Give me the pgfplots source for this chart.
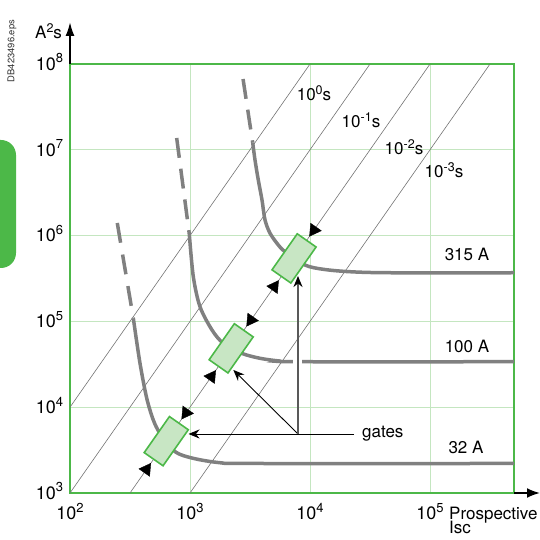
\documentclass[border=0pt]{standalone}
\usepackage{fontspec}
\setmainfont{TeX Gyre Heros}
\usepackage{pgfplots}
\pgfplotsset{compat=1.18}
\usetikzlibrary{arrows.meta}
\definecolor{fgreen}{RGB}{76,184,72}
\definecolor{gridgreen}{RGB}{196,230,192}
\definecolor{boxfill}{RGB}{200,230,196}
\definecolor{curvegray}{RGB}{128,128,128}
\definecolor{linegray}{RGB}{115,115,115}
\newcommand{\lab}{\fontsize{17bp}{20bp}\selectfont}
\newcommand{\tlab}{\fontsize{18bp}{20bp}\selectfont}
\newcommand{\sups}[1]{\raisebox{6.5bp}{\fontsize{12.5bp}{12bp}\selectfont #1}}
\newcommand{\tsups}[1]{\raisebox{7.3bp}{\fontsize{13bp}{12bp}\selectfont #1}}
\pgfdeclareplotmark{gate}{%
  \pgfpathrectangle{\pgfpoint{-22bp}{-11.5bp}}{\pgfpoint{44bp}{23bp}}%
  \pgfusepathqfillstroke}
\begin{document}
\begin{tikzpicture}
% green tab
\fill[fgreen, rounded corners=15bp] (-30bp,272bp) rectangle (16bp,400bp);
\node[rotate=90, font=\fontsize{9.4bp}{10bp}\selectfont, text=black!80] at (12bp,489bp) {DB423496.eps};
\begin{axis}[
  at={(70bp,47bp)}, anchor=south west,
  scale only axis, width=444bp, height=429bp,
  xmode=log, ymode=log,
  xmin=100, xmax=501187, ymin=1000, ymax=1e8,
  xtick={100,1000,10000,100000},
  xticklabels={10\tsups{2},10\tsups{3},10\tsups{4},10\tsups{5}},
  ytick={1000,10000,100000,1000000,10000000,100000000},
  yticklabels={10\tsups{3},10\tsups{4},10\tsups{5},10\tsups{6},10\tsups{7},10\tsups{8}},
  xminorticks=false, yminorticks=false,
  major tick length=0pt,
  grid=major,
  major grid style={gridgreen, line width=1bp},
  axis line style={fgreen, line width=2bp},
  tick label style={font=\tlab, inner sep=0pt},
  xticklabel style={anchor=base, yshift=-27bp},
  yticklabel style={anchor=base east, xshift=-6.7bp, yshift=-6.3bp},
  clip mode=individual,
]
% constant-time lines
\addplot[linegray, line width=0.6bp] coordinates {(100,1e4) (1e4,1e8)};
\addplot[linegray, line width=0.6bp] coordinates {(100,1e3) (31623,1e8)};
\addplot[linegray, line width=0.6bp] coordinates {(316.23,1e3) (1e5,1e8)};
\addplot[linegray, line width=0.6bp] coordinates {(1000,1e3) (316228,1e8)};
% 32 A
\addplot[curvegray, line width=3.5bp, dash pattern=on 20bp off 12bp] coordinates {(247.7,1.403e6) (337.0,108640)};
\addplot[curvegray, line width=3.5bp, smooth] coordinates {
(337.0,108640) (382.8,32730) (435.5,12794) (494.3,7096) (562.3,4966) (749.9,3034)
(1065.4,2535) (1778,2254) (3370,2208) (501187,2208)};
% 100 A
\addplot[curvegray, line width=3.5bp, dash pattern=on 20bp off 11bp] coordinates {(774.5,1.374e7) (986.3,1.0447e6)};
\addplot[curvegray, line width=3.5bp, smooth] coordinates {
(986.3,1.0447e6) (1065.4,331900) (1211.5,148250) (1525,79430) (1894,55590) (2698,42460)
(3831,37150) (5623,34510) (8254,33880) (501187,33880)};
% 315 A
\addplot[curvegray, line width=3.5bp, dash pattern=on 20bp off 11bp] coordinates {(2767,6.683e7) (3331,1.2106e7)};
\addplot[curvegray, line width=3.5bp, smooth] coordinates {
(3331,1.2106e7) (3481,7.603e6) (3707,4.446e6) (3981,2.600e6) (4217,1.521e6) (4645,1.064e6)
(5445,776200) (6194,648600) (9078,453900) (12910,404600) (21530,379300) (46450,369000) (501187,369000)};
% gap in 100 A curve for the vertical arrow
\addplot[white, line width=9bp] coordinates {(7943,28000) (7943,41000)};
% gate boxes
\addplot[only marks, mark=gate, mark options={rotate=55, fill=boxfill, draw=fgreen, line width=1.6bp}]
  coordinates {(633.9,4018) (2203,48530) (7362,542000)};
% arrowheads along the 10^-2 s line
\addplot[only marks, mark=triangle*, mark size=7.5bp, mark options={rotate=145, fill=black, draw=black}]
  coordinates {(926.8,8590) (3221,103750) (10765,1.159e6)};
\addplot[only marks, mark=triangle*, mark size=7.5bp, mark options={rotate=-35, fill=black, draw=black}]
  coordinates {(433.5,1879) (1507,22700) (5035,253500)};
% gates arrows
\addplot[black, line width=0.9bp, -{Stealth[length=11bp, width=9bp]}] coordinates {(23270,4875) (971.6,4875)};
\addplot[black, line width=0.9bp, -{Stealth[length=11bp, width=9bp]}] coordinates {(7943,4875) (2296,27170)};
\addplot[black!65, line width=1.6bp, -{Stealth[length=11bp, width=9bp, color=black]}] coordinates {(7943,4875) (7943,338000)};
\end{axis}
% axis arrows
\draw[black, line width=2bp, -{Latex[length=14bp, width=9bp]}] (70bp,476bp) -- (70bp,518bp);
\draw[black, line width=2bp, -{Latex[length=13bp, width=10bp]}] (514bp,47bp) -- (540bp,47bp);
% labels
\node[anchor=base west, font=\lab, inner sep=0pt] at (35bp,501bp) {A\sups{2}s};
\node[anchor=north west, align=left, font={\fontsize{17bp}{15bp}\selectfont}, inner sep=0pt] at (449bp,33bp) {Prospective\\[-3bp]Isc};
\node[anchor=base, font=\lab, inner sep=0pt] at (314bp,439bp) {10\sups{0}s};
\node[anchor=base, font=\lab, inner sep=0pt] at (361bp,412bp) {10\sups{-1}s};
\node[anchor=base, font=\lab, inner sep=0pt] at (404bp,385bp) {10\sups{-2}s};
\node[anchor=base, font=\lab, inner sep=0pt] at (444bp,362bp) {10\sups{-3}s};
\node[anchor=base, font=\lab, inner sep=0pt] at (467bp,279bp) {315 A};
\node[anchor=base, font=\lab, inner sep=0pt] at (467bp,187bp) {100 A};
\node[anchor=base, font=\lab, inner sep=0pt] at (466bp,86bp) {32 A};
\node[anchor=base west, font=\lab, inner sep=0pt] at (362bp,102bp) {gates};
\pgfresetboundingbox
\path[use as bounding box] (0bp,0bp) rectangle (540bp,540bp);
\end{tikzpicture}
\end{document}
